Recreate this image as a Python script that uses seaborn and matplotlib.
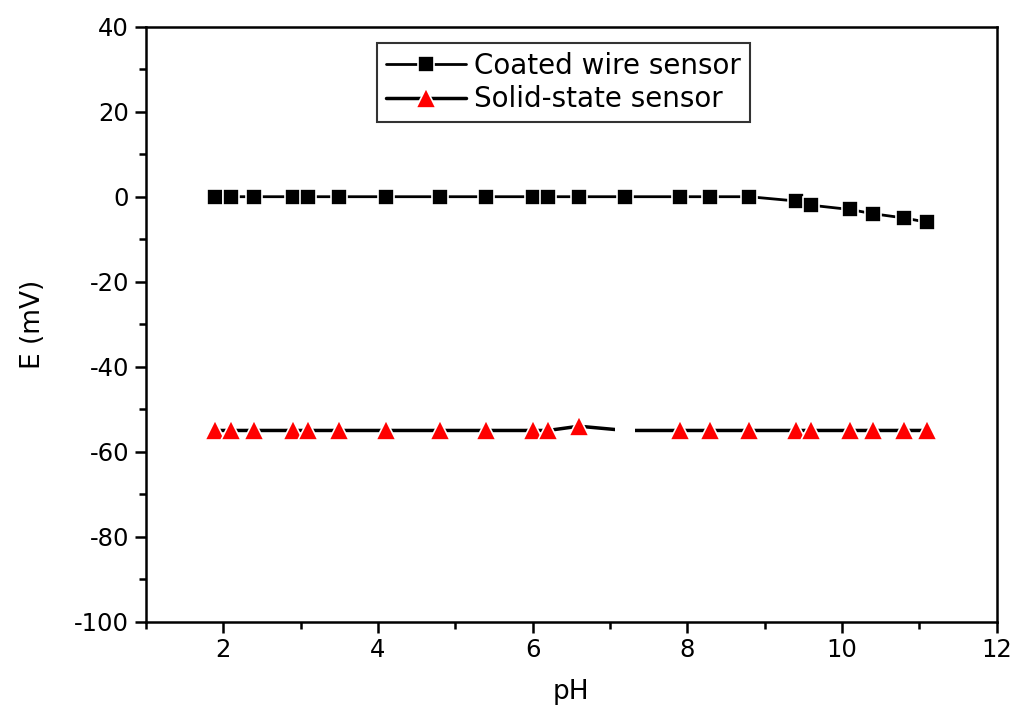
import matplotlib
matplotlib.use('Agg')
import matplotlib.pyplot as plt
import seaborn as sns
import pandas as pd
from matplotlib.ticker import MultipleLocator

# data
ph = [1.9, 2.1, 2.4, 2.9, 3.1, 3.5, 4.1, 4.8, 5.4, 6.0, 6.2, 6.6, 7.2,
      7.9, 8.3, 8.8, 9.4, 9.6, 10.1, 10.4, 10.8, 11.1]
coated_e = [0, 0, 0, 0, 0, 0, 0, 0, 0, 0, 0, 0, 0,
            0, 0, 0, -1, -2, -3, -4, -5, -6]
solid_e = [-55, -55, -55, -55, -55, -55, -55, -55, -55, -55, -55, -54, -55,
           -55, -55, -55, -55, -55, -55, -55, -55, -55]
# the solid-state point at pH 7.2 has no visible symbol
solid_hidden_ph = [7.2]

coated = pd.DataFrame({'pH': ph, 'E': coated_e})
solid = pd.DataFrame({'pH': ph, 'E': solid_e})
hidden = solid[solid['pH'].isin(solid_hidden_ph)]

sns.set_style('ticks')
plt.rcParams['font.family'] = ['DejaVu Sans']
plt.rcParams['axes.unicode_minus'] = False
plt.rcParams['text.color'] = 'black'
plt.rcParams['axes.labelcolor'] = 'black'
plt.rcParams['xtick.color'] = 'black'
plt.rcParams['ytick.color'] = 'black'
plt.rcParams['axes.edgecolor'] = 'black'

fig = plt.figure(figsize=(10.16, 7.18), dpi=100)
ax = fig.add_axes([0.1435, 0.1341, 0.8375, 0.8287])

sns.lineplot(data=coated, x='pH', y='E', ax=ax, color='black', linewidth=2,
             marker='s', markersize=12, markerfacecolor='black',
             markeredgecolor='white', markeredgewidth=1.2,
             label='Coated wire sensor')
sns.lineplot(data=solid, x='pH', y='E', ax=ax, color='black', linewidth=2.5,
             marker='^', markersize=15, markerfacecolor='red',
             markeredgecolor='white', markeredgewidth=1.2,
             label='Solid-state sensor')
# mask the symbol of the hidden point (Origin draws a gap there)
ax.plot(hidden['pH'], hidden['E'], linestyle='none', marker='s',
        markersize=15, color='white', markeredgewidth=0, zorder=5)

ax.set_xlim(1, 12)
ax.set_ylim(-100, 40)
ax.xaxis.set_major_locator(MultipleLocator(2))
ax.xaxis.set_minor_locator(MultipleLocator(1))
ax.yaxis.set_major_locator(MultipleLocator(20))
ax.yaxis.set_minor_locator(MultipleLocator(10))
ax.tick_params(which='major', length=8, width=1.8, labelsize=17.5,
               direction='out', pad=4)
ax.tick_params(which='minor', length=5, width=1.8, direction='out')
for s in ax.spines.values():
    s.set_linewidth(1.8)
    s.set_visible(True)

ax.set_xlabel('pH', fontsize=19, labelpad=12)
ax.set_ylabel('E (mV)', fontsize=19, labelpad=20)

leg = ax.legend(loc='upper left', bbox_to_anchor=(0.272, 0.972), fontsize=20,
                frameon=True, fancybox=False, edgecolor='black',
                handlelength=2.9, handletextpad=0.3, borderpad=0.3,
                labelspacing=0.2, borderaxespad=0)
leg.get_frame().set_linewidth(1.5)

fig.savefig('out.png', dpi=100)
